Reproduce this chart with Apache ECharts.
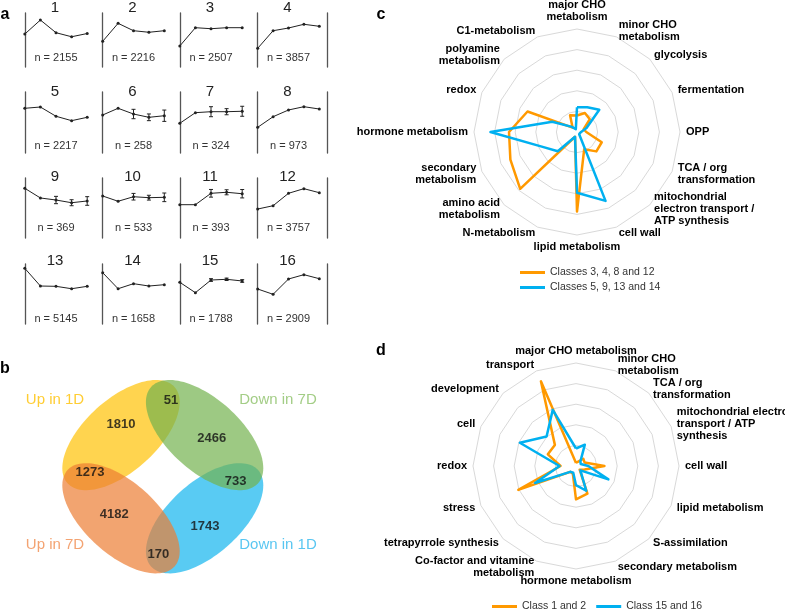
<!DOCTYPE html>
<html><head><meta charset="utf-8">
<script src="https://cdn.jsdelivr.net/npm/echarts@6/dist/echarts.min.js"></script>
<style>html,body{margin:0;padding:0;background:#fff}#c{width:785px;height:611px}</style>
</head><body><div id="c"></div>
<script>
// ---------- Panel a : expression profiles of 16 classes ----------
const classIds = ['1','2','3','4','5','6','7','8','9','10','11','12','13','14','15','16'];
const classSizes = [2155,2216,2507,3857,2217,258,324,973,369,533,393,3757,5145,1658,1788,2909];
const timePoints = [0,1,2,3,4];
const profiles = [
  [6.10,8.70,6.35,5.60,6.20],
  [4.76,8.09,6.72,6.43,6.72],
  [3.89,7.28,7.09,7.28,7.28],
  [3.46,6.72,7.22,7.91,7.54],
  [7.33,7.54,6.02,5.30,5.85],
  [6.23,7.33,6.39,5.85,6.11],
  [4.87,6.61,6.77,6.77,6.84],
  [4.21,5.95,7.05,7.59,7.21],
  [8.28,6.67,6.33,5.88,6.17],
  [7.00,6.12,6.88,6.72,6.78],
  [5.55,5.55,7.45,7.62,7.38],
  [4.83,5.38,7.45,8.22,7.55],
  [9.28,6.33,6.28,5.88,6.28],
  [8.55,5.88,6.72,6.33,6.55],
  [6.95,5.22,7.33,7.45,7.17],
  [5.83,4.95,7.50,8.22,7.55]
];
const profileErrors = [
  [0,0,0,0,0],[0,0,0,0,0],[0,0,0,0,0],[0,0,0,0,0],
  [0,0,0,0,0],[0,0,0.77,0.55,0.93],[0,0,0.82,0.50,0.82],[0,0,0,0,0],
  [0,0,0.61,0.50,0.72],[0,0,0.55,0.40,0.72],[0,0,0.64,0.42,0.70],[0,0,0,0,0],
  [0,0,0,0,0],[0,0,0,0,0],[0,0,0.22,0.20,0.22],[0,0,0,0,0]
];

// ---------- Panel b : Venn ----------
const vennSets = ['Up in 1D','Down in 7D','Up in 7D','Down in 1D'];
const vennCounts = [1810,51,2466,1273,733,4182,1743,170];

// ---------- Panel c : radar ----------
const radarCAxes = ['major CHO\nmetabolism','minor CHO\nmetabolism','glycolysis','fermentation','OPP',
  'TCA / org\ntransformation','mitochondrial\nelectron transport /\nATP synthesis','cell wall','lipid metabolism',
  'N-metabolism','amino acid\nmetabolism','secondary\nmetabolism','hormone metabolism','redox',
  'polyamine\nmetabolism','C1-metabolism'];
const radarCNames = ['Classes 3, 4, 8 and 12','Classes 5, 9, 13 and 14'];
const radarCOrange = [0.80,1.00,0.88,0.35,0.45,1.30,1.33,0.91,3.86,0.25,3.90,3.50,3.30,2.60,0.30,0.88];
const radarCBlue   = [1.20,1.30,1.53,0.50,0.20,0.15,0.15,3.62,2.95,0.25,1.32,1.85,4.20,1.30,0.35,0.15];

// ---------- Panel d : radar ----------
const radarDAxes = ['major CHO metabolism','minor CHO\nmetabolism','TCA / org\ntransformation',
  'mitochondrial electron\ntransport / ATP\nsynthesis','cell wall','lipid metabolism','S-assimilation',
  'secondary metabolism','hormone metabolism','Co-factor and vitamine\nmetabolism','tetrapyrrole synthesis',
  'stress','redox','cell','development','transport'];
const radarDNames = ['Class 1 and 2','Class 15 and 16'];
const radarDOrange = [0.15,0.22,0.50,0.45,1.38,0.45,0.25,1.45,1.62,0.40,0.40,3.03,0.75,1.48,1.45,4.45];
const radarDBlue   = [0.85,1.12,0.30,0.25,0.60,1.70,0.30,1.30,0.93,0.35,0.40,2.15,0.80,2.95,2.02,2.95];

// ---------- layout (positions / styles) ----------
const FONT = 'Liberation Sans, Arial, sans-serif';
const colX = [17,95,172,250,327];
const rowTop = [13,92,178,264], rowH = [54,61,60,60];
const titleY = [7.5,92,177,261], nY = [58.3,145.7,227.7,319];
const ORANGE = '#FF9900', BLUE = '#00B0F0';

const grids=[], xAxes=[], yAxes=[], series=[], graphics=[];
profiles.forEach((prof,i)=>{
  const r=Math.floor(i/4), c=i%4;
  grids.push({left:colX[c], top:rowTop[r], width:colX[c+1]-colX[c], height:rowH[r]});
  xAxes.push({gridIndex:i, type:'value', min:-0.5, max:4.5, show:false});
  yAxes.push({gridIndex:i, type:'value', min:0, max:10, position:'left',
    axisLine:{show:true, lineStyle:{color:'#555', width:1.3}}, axisTick:{show:false}, axisLabel:{show:false}, splitLine:{show:false}});
  series.push({type:'line', xAxisIndex:i, yAxisIndex:i, data:timePoints.map((t,k)=>[t,prof[k]]),
    symbol:'circle', symbolSize:3, itemStyle:{color:'#222'}, lineStyle:{color:'#222', width:1}, silent:true, animation:false});
  const eb = timePoints.map((t,k)=>[t,prof[k]-profileErrors[i][k],prof[k]+profileErrors[i][k]]).filter((d,k)=>profileErrors[i][k]>0);
  if(eb.length){
    series.push({type:'custom', xAxisIndex:i, yAxisIndex:i, data:eb, silent:true, animation:false,
      renderItem:(p,api)=>{
        const x=api.value(0), a=api.coord([x,api.value(1)]), b=api.coord([x,api.value(2)]);
        const st={stroke:'#222', lineWidth:1}; const w=2;
        return {type:'group', children:[
          {type:'line', shape:{x1:a[0],y1:a[1],x2:b[0],y2:b[1]}, style:st},
          {type:'line', shape:{x1:a[0]-w,y1:a[1],x2:a[0]+w,y2:a[1]}, style:st},
          {type:'line', shape:{x1:b[0]-w,y1:b[1],x2:b[0]+w,y2:b[1]}, style:st}]};
      }});
  }
  const cx=(colX[c]+colX[c+1])/2;
  graphics.push({type:'text', x:cx-1, y:titleY[r], style:{text:classIds[i], font:'15px '+FONT, fill:'#222', align:'center', verticalAlign:'middle', textAlign:'center', textVerticalAlign:'middle'}});
  graphics.push({type:'text', x:cx, y:nY[r], style:{text:'n = '+classSizes[i], font:'11px '+FONT, fill:'#333', align:'center', verticalAlign:'middle', textAlign:'center', textVerticalAlign:'middle'}});
});
// right border lines of column 4
[3,7,11,15].forEach(gi=>{
  yAxes.push({gridIndex:gi, type:'value', min:0, max:10, position:'right',
    axisLine:{show:true, lineStyle:{color:'#555', width:1.3}}, axisTick:{show:false}, axisLabel:{show:false}, splitLine:{show:false}});
});

// Venn grid (1 unit = 1 px)
const vg = grids.length;
grids.push({left:32.8, top:366.7, width:260, height:220});
xAxes.push({gridIndex:vg, type:'value', min:-130, max:130, show:false});
yAxes.push({gridIndex:vg, type:'value', min:-110, max:110, show:false});
const vyi = yAxes.length-1, vxi = xAxes.length-1;
const vennEllipses = [
  {cx:-41.8, cy:41.6, a:72, b:36, ang:42, fill:'rgba(255,194,4,0.7)'},    // Up in 1D
  {cx:41.8, cy:41.6, a:72, b:36, ang:-42, fill:'rgba(115,178,78,0.7)'},   // Down in 7D
  {cx:-41.8, cy:-41.6, a:72, b:36, ang:-42, fill:'rgba(236,126,51,0.7)'}, // Up in 7D
  {cx:41.8, cy:-41.6, a:72, b:36, ang:42, fill:'rgba(19,181,238,0.7)'}    // Down in 1D
];
series.push({type:'custom', xAxisIndex:vxi, yAxisIndex:vyi, data:[[0],[3],[2],[1]], silent:true, animation:false,
  renderItem:(p,api)=>{
    const e=vennEllipses[api.value(0)], th=e.ang*Math.PI/180, pts=[];
    for(let k=0;k<120;k++){const t=k/120*2*Math.PI, x=e.a*Math.cos(t), y=e.b*Math.sin(t);
      pts.push(api.coord([e.cx+x*Math.cos(th)-y*Math.sin(th), e.cy+x*Math.sin(th)+y*Math.cos(th)]));}
    return {type:'polygon', shape:{points:pts}, style:{fill:e.fill}};
  }});
const vennCountPos = [[-41.8,52.7],[8.2,76],[48.9,38.4],[-72.8,4],[72.9,-4.3],[-48.5,-37.3],[42.2,-49.3],[-4.5,-77.6]];
series.push({type:'scatter', xAxisIndex:vxi, yAxisIndex:vyi, symbolSize:1, itemStyle:{color:'rgba(0,0,0,0)'}, silent:true, animation:false, clip:false, z:5,
  data:vennCounts.map((v,k)=>[vennCountPos[k][0],vennCountPos[k][1],v]),
  label:{show:true, position:'inside', formatter:p=>String(p.value[2]), fontFamily:FONT, fontWeight:'bold', fontSize:13, color:'#111'}});
const vennSetPos = [[-107.8,76.7],[115.2,76.7],[-107.8,-68.3],[115.2,-68.3]];
const vennSetColor = ['#FFC000','#8CC168','#F08C4F','#2FB8EE'];
series.push({type:'scatter', xAxisIndex:vxi, yAxisIndex:vyi, symbolSize:1, itemStyle:{color:'rgba(0,0,0,0)'}, silent:true, animation:false, clip:false, z:5,
  data:vennSets.map((s,k)=>({value:[vennSetPos[k][0],vennSetPos[k][1]], name:s, label:{color:vennSetColor[k]}})),
  label:{show:true, position:'inside', formatter:p=>p.name, fontFamily:FONT, fontSize:15}});

// radar helpers: ECharts places indicators counter-clockwise; reorder for clockwise layout
const cw = arr => [arr[0]].concat(arr.slice(1).reverse());
function radarCfg(center, axes){
  return {center:center, radius:103, startAngle:90, splitNumber:5, shape:'polygon', nameGap:6,
    indicator:cw(axes).map(n=>({name:n, min:0, max:5})),
    axisName:{color:'#000', fontWeight:'bold', fontSize:11, fontFamily:FONT, lineHeight:12},
    splitLine:{lineStyle:{color:'#d9d9d9', width:1}}, splitArea:{show:false},
    axisLine:{show:false}, axisTick:{show:false}, axisLabel:{show:false}};
}
function radarSeries(idx, names, a, b){
  return {type:'radar', radarIndex:idx, symbol:'none', silent:true, animation:false,
    data:[
      {name:names[0], value:cw(a), lineStyle:{color:ORANGE, width:2.5}, itemStyle:{color:ORANGE}},
      {name:names[1], value:cw(b), lineStyle:{color:BLUE, width:2.5}, itemStyle:{color:BLUE}}
    ]};
}
series.push(radarSeries(0, radarCNames, radarCOrange, radarCBlue));
series.push(radarSeries(1, radarDNames, radarDOrange, radarDBlue));

// panel letters
[['a',5,15],['b',5,369],['c',381,15],['d',381,351]].forEach(l=>{
  graphics.push({type:'text', x:l[1], y:l[2], style:{text:l[0], font:'bold 16px '+FONT, fill:'#000', align:'center', verticalAlign:'middle', textAlign:'center', textVerticalAlign:'middle'}});
});

const chart = echarts.init(document.getElementById('c'), null, {renderer:'canvas'});
chart.setOption({
  animation:false,
  backgroundColor:'#fff',
  grid:grids, xAxis:xAxes, yAxis:yAxes,
  radar:[radarCfg([577,132], radarCAxes), radarCfg([576,466], radarDAxes)],
  legend:[
    {data:radarCNames, orient:'vertical', left:515, top:262, itemWidth:25, itemHeight:3, icon:'rect', itemGap:4,
      textStyle:{fontSize:10.5, color:'#333', fontFamily:FONT}, selectedMode:false},
    {data:radarDNames, orient:'horizontal', left:487, top:596, itemWidth:25, itemHeight:3, icon:'rect', itemGap:10,
      textStyle:{fontSize:10.5, color:'#333', fontFamily:FONT}, selectedMode:false}
  ],
  series:series,
  graphic:graphics
});
</script></body></html>
